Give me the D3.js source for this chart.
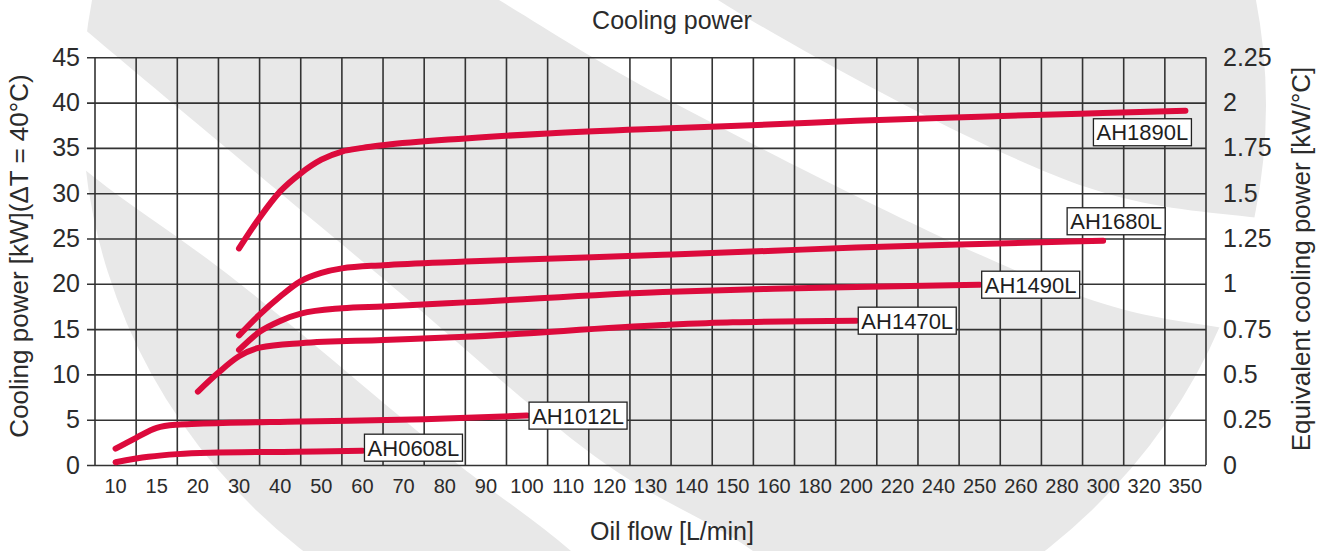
<!DOCTYPE html>
<html>
<head>
<meta charset="utf-8">
<script src="https://cdn.jsdelivr.net/npm/d3@7"></script>
<style>
  body { margin: 0; background: #fff; }
  svg { display: block; font-family: "Liberation Sans", Arial, sans-serif; }
</style>
</head>
<body>
<svg id="chart" width="1326" height="551"></svg>
<script>
// x categories (oil flow, L/min) - evenly spaced columns in the original
const flowLabels = ["10","15","20","30","40","50","60","70","80","90","100","110","120","130","140","150","160","180","200","220","240","250","260","280","300","320","350"];
const flowTicks = flowLabels.map(Number);
const powerTicks = [0,5,10,15,20,25,30,35,40,45];
const equivTicks = [0,0.25,0.5,0.75,1,1.25,1.5,1.75,2,2.25];

// [flow, cooling power kW]
const ah1890l = [[30,23.9],[35,27.3],[40,30.2],[45,32.2],[50,33.7],[55,34.6],[60,35.0],[65,35.3],[85,36.05],[105,36.6],[133,37.15],[160,37.6],[200,38.0],[250,38.45],[300,38.85],[350,39.1]];
const ah1680l = [[30,14.3],[35,16.6],[40,18.6],[45,20.3],[50,21.2],[55,21.7],[65,22.05],[85,22.45],[133,23.2],[160,23.65],[200,24.0],[250,24.4],[300,24.75]];
const ah1490l = [[30,12.7],[35,14.7],[40,15.9],[45,16.7],[55,17.3],[65,17.5],[85,17.95],[133,19.1],[160,19.45],[200,19.65],[250,19.9]];
const ah1470l = [[20,8.1],[25,10.2],[30,12.0],[35,12.95],[45,13.45],[65,13.8],[85,14.15],[133,15.45],[150,15.75],[200,15.93]];
const ah1012l = [[10,1.8],[12.5,3.0],[15,4.1],[17.5,4.45],[20,4.55],[45,4.8],[75,5.05],[100,5.45]];
const ah0608l = [[10,0.3],[14,0.9],[17.5,1.2],[23,1.35],[44,1.47],[60,1.58]];

const seriesNames = ["AH1890L","AH1680L","AH1490L","AH1470L","AH1012L","AH0608L"];
const seriesData = [ah1890l, ah1680l, ah1490l, ah1470l, ah1012l, ah0608l];

const svg = d3.select("#chart");
const plotLeft = 95, plotRight = 1206, plotTop = 57.3, plotBottom = 465;

// background watermark (grey disc cut by two white curved stripes)
const bg = svg.append("g");
bg.append("ellipse")
  .attr("cx", 674).attr("cy", 105).attr("rx", 592).attr("ry", 572)
  .attr("fill", "#e8e8e8");
const edge = d3.line().curve(d3.curveCatmullRom);
function band(upper, lower) {
  return edge(upper) + edge(lower.slice().reverse()).replace("M", "L") + "Z";
}
bg.append("path")
  .attr("d", band(
    [[-20,-60],[89,33],[380,276],[607,465],[753,551],[830,620]],
    [[-20,80],[94,177],[230,276],[459,465],[571,551],[660,640]]))
  .attr("fill", "#fff");
bg.append("path")
  .attr("d", band(
    [[400,-60],[499,0],[663,97],[1083,297],[1217,327],[1400,345]],
    [[640,-60],[718,0],[1086,187],[1250,217],[1400,225]]))
  .attr("fill", "#fff");

// scales
const xBand = d3.scaleBand().domain(flowLabels).range([plotLeft, plotRight]).padding(0);
const xFlow = d3.scaleLinear()
  .domain(flowTicks)
  .range(flowLabels.map(d => xBand(d) + xBand.bandwidth() / 2));
const y = d3.scaleLinear().domain([0, 45]).range([plotBottom, plotTop]);
const y2 = d3.scaleLinear().domain([0, 2.25]).range([plotBottom, plotTop]);

const gridColor = "#333";

// horizontal grid + left labels
svg.append("g")
  .attr("transform", `translate(${plotLeft - 8},0)`)
  .call(d3.axisLeft(y).tickValues(powerTicks).tickSizeInner(-(plotRight - plotLeft + 8)).tickSizeOuter(0).tickPadding(7))
  .call(g => g.select(".domain").remove())
  .call(g => g.selectAll("line").attr("stroke", gridColor).attr("stroke-width", 1.6))
  .call(g => g.selectAll("text").attr("font-size", 25).attr("fill", "#2b2b2b").attr("font-family", null));

// vertical grid at column edges
const edges = flowLabels.map(d => xBand(d)).concat([plotRight]);
svg.append("g").selectAll("line")
  .data(edges)
  .join("line")
  .attr("x1", d => d).attr("x2", d => d)
  .attr("y1", plotTop).attr("y2", plotBottom)
  .attr("stroke", gridColor).attr("stroke-width", 1.6);

// bottom labels
svg.append("g")
  .attr("transform", `translate(0,${plotBottom})`)
  .call(d3.axisBottom(xBand).tickSize(0).tickPadding(14))
  .call(g => g.select(".domain").remove())
  .call(g => g.selectAll("text").attr("font-size", 20).attr("fill", "#2b2b2b").attr("font-family", null));

// right labels
svg.append("g")
  .attr("transform", `translate(${plotRight},0)`)
  .call(d3.axisRight(y2).tickValues(equivTicks).tickSize(0).tickPadding(17).tickFormat(d => String(d)))
  .call(g => g.select(".domain").remove())
  .call(g => g.selectAll("text").attr("font-size", 25).attr("fill", "#2b2b2b").attr("font-family", null));

// curves
const line = d3.line()
  .x(d => xFlow(d[0]))
  .y(d => y(d[1]))
  .curve(d3.curveMonotoneX);

svg.append("g").selectAll("path")
  .data(seriesData)
  .join("path")
  .attr("d", line)
  .attr("fill", "none")
  .attr("stroke", "#dc0a3c")
  .attr("stroke-width", 6)
  .attr("stroke-linecap", "round")
  .attr("stroke-linejoin", "round");

// series labels (boxes placed relative to the end of each curve)
const labelPlace = {
  AH1890L: { dx: 6, dy: 8, anchor: "rightTop" },
  AH1680L: { dx: -36, dy: -6, anchor: "leftBottom" },
  AH1490L: { dx: 2, dy: 0, anchor: "leftMid" },
  AH1470L: { dx: 2, dy: 0, anchor: "leftMid" },
  AH1012L: { dx: 2, dy: 0, anchor: "leftMid" },
  AH0608L: { dx: 2, dy: -3, anchor: "leftMid" }
};
const boxW = 98, boxH = 27;
seriesNames.forEach((name, i) => {
  const last = seriesData[i][seriesData[i].length - 1];
  const ex = xFlow(last[0]), ey = y(last[1]);
  const p = labelPlace[name];
  let bx, by;
  if (p.anchor === "rightTop") { bx = ex + p.dx - boxW; by = ey + p.dy; }
  else if (p.anchor === "leftBottom") { bx = ex + p.dx; by = ey + p.dy - boxH; }
  else { bx = ex + p.dx; by = ey + p.dy - boxH / 2; }
  const g = svg.append("g");
  g.append("rect")
    .attr("x", bx).attr("y", by).attr("width", boxW).attr("height", boxH)
    .attr("fill", "#fff").attr("stroke", "#222").attr("stroke-width", 1.3);
  g.append("text")
    .attr("x", bx + boxW / 2).attr("y", by + boxH / 2)
    .attr("dy", "0.36em")
    .attr("text-anchor", "middle")
    .attr("font-size", 22)
    .attr("fill", "#1e1e1e")
    .text(name);
});

// titles
svg.append("text")
  .attr("x", 672).attr("y", 29)
  .attr("text-anchor", "middle")
  .attr("font-size", 25).attr("fill", "#2b2b2b")
  .text("Cooling power");

svg.append("text")
  .attr("x", 672).attr("y", 540)
  .attr("text-anchor", "middle")
  .attr("font-size", 25).attr("fill", "#2b2b2b")
  .text("Oil flow [L/min]");

svg.append("text")
  .attr("transform", "translate(28,256) rotate(-90)")
  .attr("text-anchor", "middle")
  .attr("font-size", 26).attr("fill", "#2b2b2b")
  .text("Cooling power [kW](ΔT = 40°C)");

svg.append("text")
  .attr("transform", "translate(1310,259) rotate(-90)")
  .attr("text-anchor", "middle")
  .attr("font-size", 26).attr("fill", "#2b2b2b")
  .text("Equivalent cooling power [kW/°C]");
</script>
</body>
</html>
